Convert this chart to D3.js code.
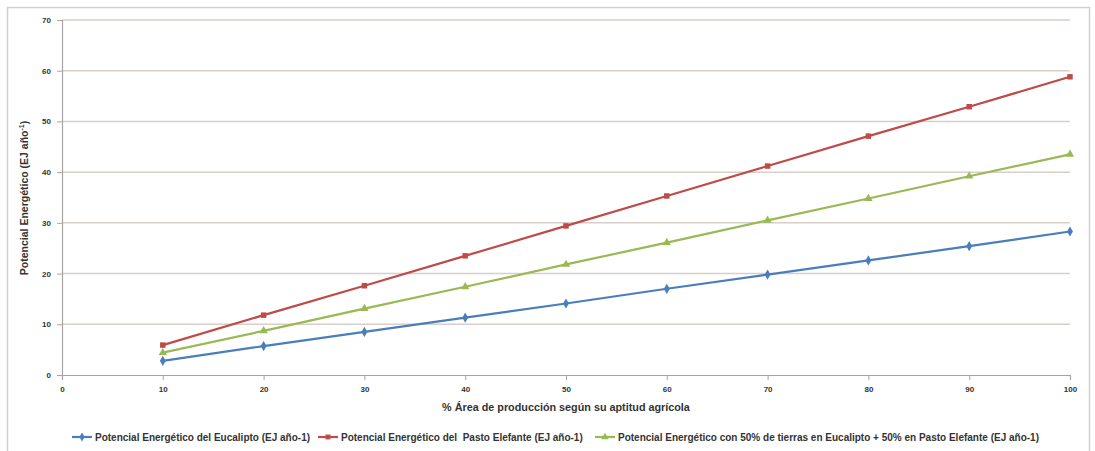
<!DOCTYPE html>
<html>
<head>
<meta charset="utf-8">
<script src="https://cdn.jsdelivr.net/npm/d3@7"></script>
<style>
  html, body { margin: 0; padding: 0; background: #ffffff; }
  svg { display: block; font-family: "Liberation Sans", Arial, sans-serif; }
</style>
</head>
<body>
<svg id="chart" width="1095" height="451"></svg>
<script>
// Share of agricultural area used (%)
const areaPct = [10, 20, 30, 40, 50, 60, 70, 80, 90, 100];
// Energy potential, EJ per year
const eucalipto = [2.8, 5.7, 8.5, 11.3, 14.1, 17.0, 19.8, 22.6, 25.4, 28.3];
const pastoElefante = [5.9, 11.8, 17.6, 23.5, 29.4, 35.3, 41.2, 47.1, 52.9, 58.8];
const mezcla = [4.4, 8.7, 13.1, 17.4, 21.8, 26.1, 30.5, 34.8, 39.2, 43.5];

const xTicks = [0, 10, 20, 30, 40, 50, 60, 70, 80, 90, 100];
const yTicks = [0, 10, 20, 30, 40, 50, 60, 70];

const seriesNames = [
  "Potencial Energético del Eucalipto (EJ año-1)",
  "Potencial Energético del\u00a0 Pasto Elefante (EJ año-1)",
  "Potencial Energético con 50% de tierras en Eucalipto + 50% en Pasto Elefante (EJ año-1)"
];
const seriesColors = ["#4a7ebb", "#be4b48", "#98b954"];
const seriesMarkers = [d3.symbolDiamond, d3.symbolSquare, d3.symbolTriangle];
const seriesValues = [eucalipto, pastoElefante, mezcla];

const svg = d3.select("#chart");

// outer chart frame
svg.append("rect")
  .attr("x", 7.5).attr("y", 7.5)
  .attr("width", 1082).attr("height", 445)
  .attr("fill", "#fff").attr("stroke", "#d4d0ce").attr("stroke-width", 1.5);

const plot = { left: 62, right: 1070, top: 20, bottom: 375 };

const x = d3.scaleLinear().domain([0, 100]).range([plot.left, plot.right]);
const y = d3.scaleLinear().domain([0, 70]).range([plot.bottom, plot.top]);

// horizontal gridlines
svg.append("g")
  .selectAll("line")
  .data(yTicks.filter(t => t > 0))
  .join("line")
  .attr("x1", plot.left).attr("x2", plot.right)
  .attr("y1", d => y(d)).attr("y2", d => y(d))
  .attr("stroke", "#d8ceca").attr("stroke-width", 1.5);

// y axis
const yAxis = svg.append("g")
  .attr("transform", `translate(${plot.left},0)`)
  .call(d3.axisLeft(y).tickValues(yTicks).tickSize(5).tickPadding(6));
yAxis.select(".domain").attr("stroke", "#a8a4a2").attr("stroke-width", 1.2);
yAxis.selectAll(".tick line").attr("stroke", "#a8a4a2");
yAxis.selectAll("text").attr("font-size", 8).attr("font-weight", "bold").attr("fill", "#333");

// x axis
const xAxis = svg.append("g")
  .attr("transform", `translate(0,${plot.bottom})`)
  .call(d3.axisBottom(x).tickValues(xTicks).tickSize(5).tickPadding(6));
xAxis.select(".domain").attr("stroke", "#a8a4a2").attr("stroke-width", 1.2);
xAxis.selectAll(".tick line").attr("stroke", "#a8a4a2");
xAxis.selectAll("text").attr("font-size", 8).attr("font-weight", "bold").attr("fill", "#333");

// axis titles
svg.append("text")
  .attr("x", (plot.left + plot.right) / 2).attr("y", 411)
  .attr("text-anchor", "middle")
  .attr("font-size", 10.8).attr("font-weight", "bold").attr("fill", "#333")
  .text("% Área de producción según su aptitud agrícola");

const yTitle = svg.append("text")
  .attr("transform", `translate(28,198) rotate(-90)`)
  .attr("text-anchor", "middle")
  .attr("font-size", 10.5).attr("font-weight", "bold").attr("fill", "#333");
yTitle.append("tspan").text("Potencial Energético (EJ año");
yTitle.append("tspan").attr("dy", -4).attr("font-size", 7).text("-1");
yTitle.append("tspan").attr("dy", 4).text(")");

// series lines and markers
const line = d3.line()
  .x((d, i) => x(areaPct[i]))
  .y(d => y(d));

seriesValues.forEach((vals, s) => {
  svg.append("path")
    .datum(vals)
    .attr("d", line)
    .attr("fill", "none")
    .attr("stroke", seriesColors[s])
    .attr("stroke-width", 2.2);

  svg.append("g")
    .selectAll("path")
    .data(vals)
    .join("path")
    .attr("transform", (d, i) => `translate(${x(areaPct[i])},${y(d)})`)
    .attr("d", d3.symbol().type(seriesMarkers[s]).size(30))
    .attr("fill", seriesColors[s]);
});

// legend
const legendItems = [
  { lx: 72, tx: 95 },
  { lx: 318, tx: 341 },
  { lx: 595, tx: 618 }
];
const legendY = 437;
legendItems.forEach((it, s) => {
  svg.append("line")
    .attr("x1", it.lx).attr("x2", it.lx + 20)
    .attr("y1", legendY).attr("y2", legendY)
    .attr("stroke", seriesColors[s]).attr("stroke-width", 2.2);
  svg.append("path")
    .attr("transform", `translate(${it.lx + 10},${legendY})`)
    .attr("d", d3.symbol().type(seriesMarkers[s]).size(24))
    .attr("fill", seriesColors[s]);
  svg.append("text")
    .attr("x", it.tx).attr("y", legendY + 3.5)
    .attr("font-size", 10).attr("font-weight", "bold").attr("fill", "#333")
    .text(seriesNames[s]);
});
</script>
</body>
</html>
